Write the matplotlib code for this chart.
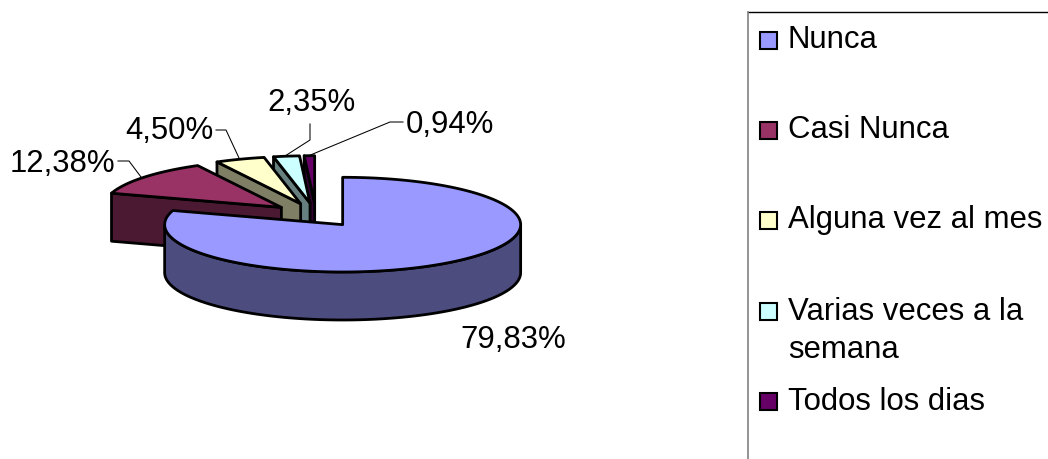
import numpy as np
import matplotlib
matplotlib.use("Agg")
import matplotlib.pyplot as plt
from matplotlib.patches import Polygon, Rectangle

categories = ["Nunca", "Casi Nunca", "Alguna vez al mes", "Varias veces a la\nsemana", "Todos los dias"]
values = [79.83, 12.38, 4.50, 2.35, 0.94]
top_colors = ["#9999FF", "#993366", "#FFFFCC", "#CCFFFF", "#660066"]
side_colors = ["#4C4C7F", "#4C1933", "#7F7F66", "#667F7F", "#330033"]

plt.rcParams["font.family"] = ["Liberation Sans", "DejaVu Sans"]
FS = 22.4
LW = 2.0

fig = plt.figure(figsize=(10.48, 4.59), dpi=100)
ax = fig.add_axes([0, 0, 1, 1])
ax.set_xlim(0, 1048)
ax.set_ylim(459, 0)
ax.axis("off")

CX, CY, R, SQ, EXPL, DEPTH = 316, 215, 178, 0.266, 45 / 178, 48


def geometry(start, end):
    mid = np.radians((start + end) / 2)
    ox = CX + EXPL * R * np.sin(mid)
    oy = CY - EXPL * R * np.cos(mid) * SQ
    th = np.radians(np.linspace(start, end, 240))
    return ox, oy, th, ox + R * np.sin(th), oy - R * SQ * np.cos(th)


ends = np.cumsum(values) / sum(values) * 360
starts = np.r_[0, ends[:-1]]
kw = dict(edgecolor="black", linewidth=LW, joinstyle="round")

# back-to-front: the small slices first, the large one last
for i in [4, 3, 2, 1, 0]:
    ox, oy, th, xs, ys = geometry(starts[i], ends[i])
    z = 2 + (4 - i)
    if i == 0:
        front = (th >= np.pi / 2) & (th <= 1.5 * np.pi)
        fx, fy = xs[front], ys[front]
        wall = np.r_[np.c_[fx, fy], np.c_[fx[::-1], fy[::-1] + DEPTH]]
    else:
        # the radial cut at the slice's starting angle faces the viewer
        wall = np.array([[ox, oy], [xs[0], ys[0]], [xs[0], ys[0] + DEPTH], [ox, oy + DEPTH]])
    ax.add_patch(Polygon(wall, closed=True, facecolor=side_colors[i], zorder=z, **kw))
    top = np.r_[[[ox, oy]], np.c_[xs, ys]]
    ax.add_patch(Polygon(top, closed=True, facecolor=top_colors[i], zorder=z + 0.5, **kw))

# data labels
labels = [f"{v:.2f}%".replace(".", ",") for v in values]
label_pos = [(460, 348), (10, 172), (125, 139), (267, 111), (406, 133)]
leaders = [None,
           [(118, 161), (129, 161), (141, 177)],
           [(216, 130), (226, 130), (239, 158)],
           [(310, 124), (310, 140), (285, 156)],
           [(403, 122), (390, 122), (308, 156)]]
for lab, (x, y), ld in zip(labels, label_pos, leaders):
    ax.text(x, y, lab, fontsize=FS, color="black", ha="left", va="baseline", zorder=20)
    if ld:
        ax.plot(*zip(*ld), color="black", lw=0.75, zorder=20, solid_joinstyle="miter")

# legend frame (runs off the canvas at right and bottom)
ax.plot([748, 1048], [12, 12], color="black", lw=1, zorder=1)
ax.plot([748, 748], [12, 459], color="#808080", lw=1.2, zorder=1)

marker_y = [32, 122, 212, 303, 393]
text_y = [48, 138, 228, 320, 410]
for cat, col, my, ty in zip(categories, top_colors, marker_y, text_y):
    ax.add_patch(Rectangle((760, my), 17, 17, facecolor=col, edgecolor="black", linewidth=1.5, zorder=5))
    lines = cat.split("\n")
    ax.text(788, ty, lines[0], fontsize=FS, color="black", va="baseline", zorder=5)
    if len(lines) > 1:
        ax.text(788, ty + 38, lines[1], fontsize=FS, color="black", va="baseline", zorder=5)

fig.savefig("out.png", dpi=100, facecolor="white")
